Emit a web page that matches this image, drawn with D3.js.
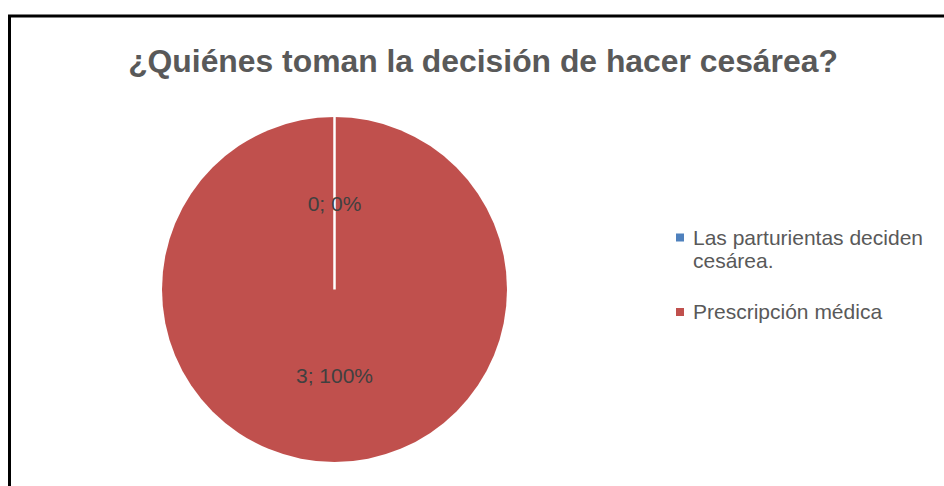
<!DOCTYPE html>
<html>
<head>
<meta charset="utf-8">
<script src="https://cdn.jsdelivr.net/npm/d3@7"></script>
<style>
  body { margin: 0; background: #fff; }
  text { font-family: "Liberation Sans", "DejaVu Sans", sans-serif; }
</style>
</head>
<body>
<div class="chart"></div>
<script>
var title = "¿Quiénes toman la decisión de hacer cesárea?";
var categories = ["Las parturientas deciden cesárea.", "Prescripción médica"];
var legendLines = [["Las parturientas deciden", "cesárea."], ["Prescripción médica"]];
var values = [0, 3];
var colors = ["#4F81BD", "#C0504D"];

var width = 944, height = 486;

var svg = d3.select(".chart")
    .append("svg")
    .attr("width", width)
    .attr("height", height);

// chart frame
svg.append("rect")
    .attr("x", 9.5)
    .attr("y", 16)
    .attr("width", 960)
    .attr("height", 500)
    .attr("fill", "#fff")
    .attr("stroke", "#000")
    .attr("stroke-width", 3);

var t = svg.append("text")
    .attr("x", 483)
    .attr("y", 72)
    .attr("text-anchor", "middle")
    .attr("font-weight", "bold")
    .attr("font-size", 28)
    .attr("fill", "#595959")
    .text(title);
// fit title to the reference width
var tw = t.node().getComputedTextLength();
t.attr("font-size", 28 * 710 / tw);

var cx = 334.5, cy = 289.5, r = 172.5;

var pie = d3.pie().sort(null).value(function(d) { return d; });
var arcs = pie(values);
var arc = d3.arc().innerRadius(0).outerRadius(r);

var g = svg.append("g").attr("transform", "translate(" + cx + "," + cy + ")");

g.selectAll("path").data(arcs).enter().append("path")
    .attr("d", arc)
    .attr("fill", function(d, i) { return colors[i]; });

// white slice borders (the empty slice shows up only as its edge)
g.selectAll("line.edge").data(arcs.filter(function(d) { return d.value === 0; }))
    .enter().append("line")
    .attr("class", "edge")
    .attr("x1", 0)
    .attr("y1", 0)
    .attr("x2", function(d) { return r * Math.sin(d.startAngle); })
    .attr("y2", function(d) { return -r * Math.cos(d.startAngle); })
    .attr("stroke", "#fff")
    .attr("stroke-width", 2.5);

var total = d3.sum(values);
g.selectAll("text.lbl").data(arcs).enter().append("text")
    .attr("class", "lbl")
    .attr("x", function(d) { return arc.centroid(d)[0]; })
    .attr("y", function(d) { return arc.centroid(d)[1]; })
    .attr("dy", "0.35em")
    .attr("text-anchor", "middle")
    .attr("font-size", 21)
    .attr("fill", "#404040")
    .text(function(d) { return d.value + "; " + Math.round(d.value / total * 100) + "%"; });

// legend
var legend = svg.append("g");
var rowY = [237.5, 312];
categories.forEach(function(c, i) {
    legend.append("rect")
        .attr("x", 676)
        .attr("y", rowY[i] - 4)
        .attr("width", 8)
        .attr("height", 8)
        .attr("fill", colors[i]);
    var lt = legend.append("text")
        .attr("x", 693)
        .attr("y", rowY[i] + 7)
        .attr("font-size", 21)
        .attr("fill", "#595959");
    legendLines[i].forEach(function(line, j) {
        lt.append("tspan")
            .attr("x", 693)
            .attr("dy", j === 0 ? 0 : 23.5)
            .text(line);
    });
});
</script>
</body>
</html>
